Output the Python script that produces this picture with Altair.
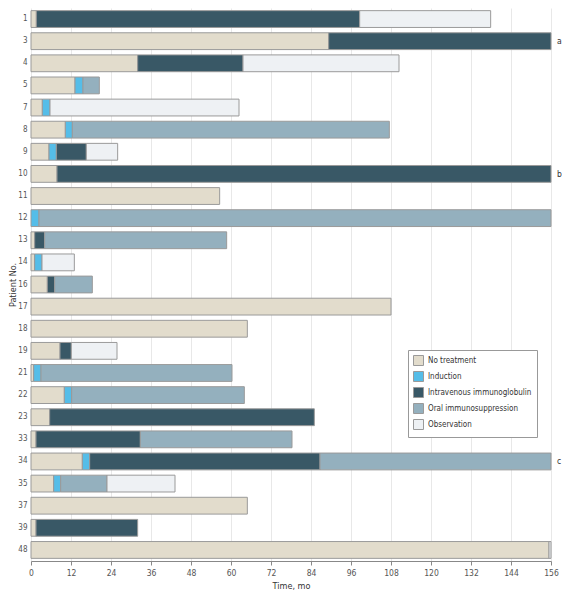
import altair as alt
import pandas as pd

patients = ["1", "3", "4", "5", "7", "8", "9", "10", "11", "12", "13", "14", "16",
            "17", "18", "19", "21", "22", "23", "33", "34", "35", "37", "39", "48"]
# durations (months) of each phase, in the order the phases occur
no_treatment = [1.6, 89.3, 32.0, 13.2, 3.4, 10.3, 5.4, 7.8, 56.6, 0.0, 1.1, 1.1, 4.9,
                108.0, 64.9, 8.7, 0.8, 10.0, 5.6, 1.5, 15.4, 6.8, 64.9, 1.5, 155.4]
induction = [0, 0, 0, 2.4, 2.3, 2.1, 2.2, 0, 0, 2.4, 0, 2.2, 0,
             0, 0, 0, 2.2, 2.2, 0, 0, 2.2, 2.1, 0, 0, 0]
ivig = [97.0, 66.7, 31.6, 0, 0, 0, 9.0, 148.2, 0, 0, 3.0, 0, 2.2,
        0, 0, 3.4, 0, 0, 79.4, 31.3, 69.1, 0, 0, 30.5, 0]
oral = [0, 0, 0, 4.9, 0, 95.1, 0, 0, 0, 153.6, 54.6, 0, 11.3,
        0, 0, 0, 57.3, 51.8, 0, 45.5, 69.3, 13.9, 0, 0, 0]
observation = [39.3, 0, 46.8, 0, 56.7, 0, 9.4, 0, 0, 0, 0, 9.7, 0,
               0, 0, 13.7, 0, 0, 0, 0, 0, 20.4, 0, 0, 0.6]

phases = ["No treatment", "Induction", "Intravenous immunoglobulin",
          "Oral immunosuppression", "Observation"]
phase_colors = ["#e2dccc", "#55bde8", "#395866", "#94b0be", "#eef1f4"]

note_patients = ["3", "10", "34"]
note_labels = ["a", "b", "c"]
x_ticks = list(range(0, 157, 12))

FONT = "DejaVu Sans Condensed, Liberation Sans Narrow, sans-serif"

rows = []
series = [no_treatment, induction, ivig, oral, observation]
for i, p in enumerate(patients):
    start = 0.0
    for ph, vals in zip(phases, series):
        d = vals[i]
        if d > 0:
            rows.append({"patient": p, "phase": ph, "start": start, "end": start + d})
            start += d
df = pd.DataFrame(rows)
notes = pd.DataFrame({"patient": note_patients, "label": note_labels, "start": [156] * 3})

x_scale = alt.Scale(domain=[0, 156], nice=False)
x_axis = alt.Axis(title="Time, mo", values=x_ticks, grid=True,
                  gridColor="#e8e8e8", domainColor="#888888",
                  tickColor="#888888", tickSize=4, labelPadding=3,
                  labelOverlap=False, labelFlush=False,
                  titlePadding=5, labelFontSize=8.5, titleFontSize=9)
y_scale = alt.Scale(paddingInner=0.24, paddingOuter=0.12)
y_axis = alt.Axis(title="Patient No.", ticks=False, domain=False,
                  labelPadding=4, titleX=-14, titleBaseline="bottom",
                  labelFontSize=8, titleFontSize=9)

bars = alt.Chart(df).mark_bar(stroke="#9a9a9a", strokeWidth=1).encode(
    x=alt.X("start:Q", scale=x_scale, axis=x_axis),
    x2="end:Q",
    y=alt.Y("patient:N", sort=patients, scale=y_scale, axis=y_axis),
    color=alt.Color("phase:N", sort=phases,
                    scale=alt.Scale(domain=phases, range=phase_colors),
                    legend=alt.Legend(title=None, orient="none", legendX=377,
                                      legendY=342, symbolType="square",
                                      symbolSize=100, symbolStrokeColor="#9a9a9a",
                                      symbolStrokeWidth=1, labelFontSize=8,
                                      labelColor="#333333", rowPadding=1,
                                      padding=5, strokeColor="#999999",
                                      fillColor="white", labelFont=FONT,
                                      labelOffset=4)),
)

text = alt.Chart(notes).mark_text(align="left", dx=6, fontSize=8.5, color="#333333",
                                  font=FONT).encode(
    x=alt.X("start:Q", scale=x_scale, axis=x_axis),
    y=alt.Y("patient:N", sort=patients, scale=y_scale, axis=y_axis),
    text="label:N")

chart = alt.layer(bars, text).properties(
    width=520, height=553,
    padding=0,
).configure_view(stroke=None).configure_axis(
    labelFont=FONT, titleFont=FONT,
    labelColor="#555555", titleColor="#333333", titleFontWeight="normal",
)

chart.save("out.html", embed_options={"renderer": "svg", "actions": False})
